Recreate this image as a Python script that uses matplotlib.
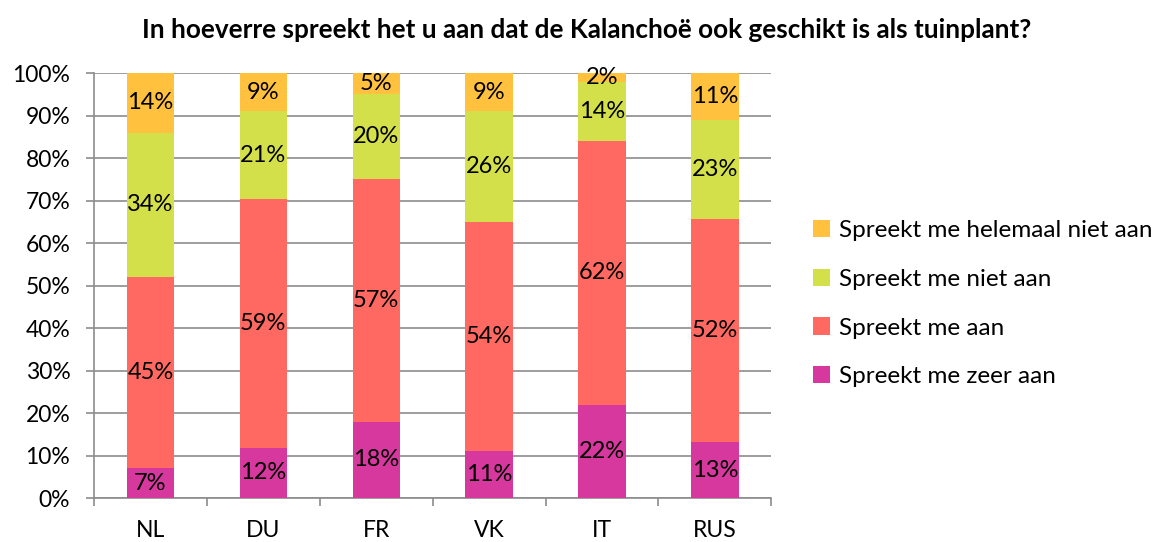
import matplotlib
matplotlib.use("Agg")
import matplotlib.pyplot as plt
import numpy as np
from matplotlib.ticker import FuncFormatter, MultipleLocator

plt.rcParams['font.family'] = ['Lato', 'DejaVu Sans']

countries = ["NL", "DU", "FR", "VK", "IT", "RUS"]
zeer_aan = [7, 12, 18, 11, 22, 13]
aan = [45, 59, 57, 54, 62, 52]
niet_aan = [34, 21, 20, 26, 14, 23]
helemaal_niet = [14, 9, 5, 9, 2, 11]

series_names = ["Spreekt me zeer aan", "Spreekt me aan", "Spreekt me niet aan",
                "Spreekt me helemaal niet aan"]
colors = ["#D6389E", "#FF6961", "#D4E04A", "#FFC13E"]
title = "In hoeverre spreekt het u aan dat de Kalanchoë ook geschikt is als tuinplant?"

data = np.array([zeer_aan, aan, niet_aan, helemaal_niet], dtype=float)
totals = data.sum(axis=0)
shares = data / totals * 100

fig = plt.figure(figsize=(11.6, 5.42), dpi=100)
ax = fig.add_axes([0.081, 0.081, 0.584, 0.784])

x = np.arange(len(countries))
bottom = np.zeros(len(countries))
handles = []
for i in range(4):
    b = ax.bar(x, shares[i], bottom=bottom, width=0.42, color=colors[i],
               label=series_names[i], zorder=3)
    handles.append(b)
    for j in range(len(countries)):
        ax.text(x[j], bottom[j] + shares[i][j] / 2, f"{int(data[i][j])}%",
                ha="center", va="center", fontsize=17, color="black", zorder=4)
    bottom += shares[i]

ax.set_xlim(-0.5, len(countries) - 0.5)
ax.set_ylim(0, 100)
ax.yaxis.set_major_locator(MultipleLocator(10))
ax.yaxis.set_major_formatter(FuncFormatter(lambda v, p: f"{int(round(v))}%"))
ax.grid(axis="y", color="#8C8C8C", linewidth=1.2, zorder=0)
ax.set_xticks(x)
ax.set_xticklabels(countries)
ax.set_xticks(np.arange(-0.5, len(countries) + 0.5, 1), minor=True)
ax.tick_params(axis="x", which="major", length=0, pad=16, labelsize=16.5)
ax.tick_params(axis="x", which="minor", length=6, color="#8C8C8C", width=1.2)
ax.tick_params(axis="y", length=6, color="#8C8C8C", width=1.2, labelsize=16.5, pad=11)
for s in ["top", "right"]:
    ax.spines[s].set_visible(False)
for s in ["left", "bottom"]:
    ax.spines[s].set_color("#8C8C8C")
    ax.spines[s].set_linewidth(1.2)

fig.text(0.506, 0.945, title, ha="center", va="center", fontsize=18.8, fontweight="bold")

leg = fig.legend(handles[::-1], series_names[::-1], loc="center left",
                 bbox_to_anchor=(0.701, 0.44), frameon=False, fontsize=17.5,
                 handlelength=0.7, handleheight=0.7, handletextpad=0.35,
                 labelspacing=1.15, borderaxespad=0, borderpad=0)

fig.savefig("out.png", dpi=100)
